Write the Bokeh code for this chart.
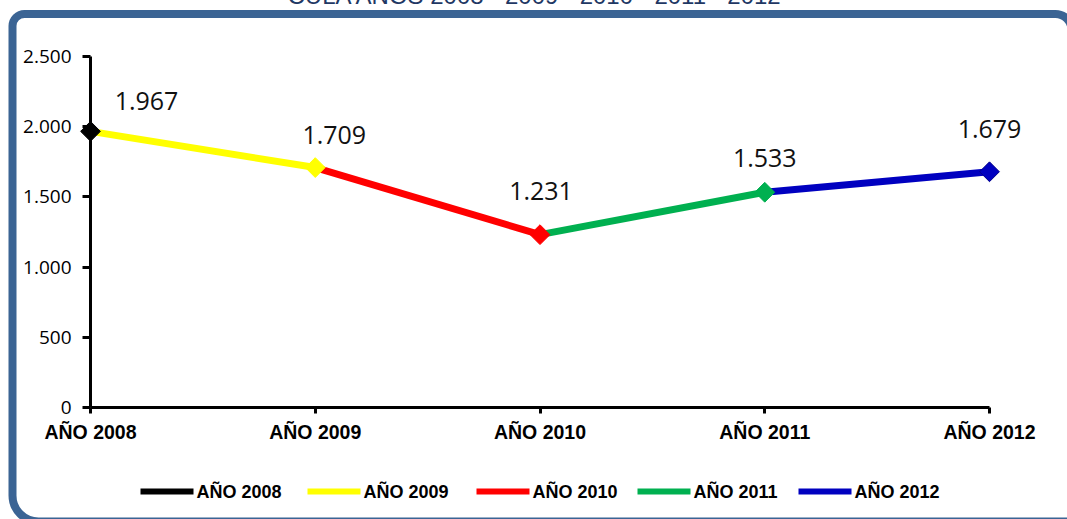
import math
from bokeh.plotting import figure
from bokeh.models import Range1d, FixedTicker, ColumnDataSource
from bokeh.core.properties import value
from bokeh.embed import file_html
from bokeh.resources import INLINE

# ---- data ----
years = ["AÑO 2008", "AÑO 2009", "AÑO 2010", "AÑO 2011", "AÑO 2012"]
values = [1967, 1709, 1231, 1533, 1679]
value_labels = ["1.967", "1.709", "1.231", "1.533", "1.679"]
y_ticks = [0, 500, 1000, 1500, 2000, 2500]
y_tick_labels = ["0", "500", "1.000", "1.500", "2.000", "2.500"]
title_text = "CULA AÑOS 2008 - 2009 - 2010 - 2011 - 2012"

# ---- styles ----
colors = ["#000000", "#FFFF00", "#FF0000", "#00B050", "#0000C0"]
marker_outline = ["#000000", "#FFFF00", "#FF0000", "#00B050", "#00008B"]
label_dx = [56, 19, 1, 0, 0]
label_dy = [30, 33, 44, 34, 43]
legend_px = [140, 307, 476, 637, 798]   # left edge of each legend swatch
legend_py = 491

W, H = 1067, 519
FL, FR, FT, FB = 90, 989, 56, 407   # plot frame edges in pixels

xs = list(range(len(years)))

p = figure(width=W, height=H,
           x_range=Range1d(xs[0], xs[-1]),
           y_range=Range1d(y_ticks[0], y_ticks[-1]),
           output_backend="svg", toolbar_location=None,
           min_border_left=FL, min_border_right=W - FR,
           min_border_top=FT, min_border_bottom=H - FB)
p.grid.visible = False
p.outline_line_color = None
p.background_fill_color = "white"
p.border_fill_color = "white"


def xd(px):
    return xs[0] + (px - FL) / (FR - FL) * (xs[-1] - xs[0])


def yd(py):
    return y_ticks[0] + (FB - py) / (FB - FT) * (y_ticks[-1] - y_ticks[0])


# outer rounded frame (decoration)
p.quad(left=[xd(12)], right=[xd(1071)], top=[yd(13.5)], bottom=[yd(521)],
       fill_alpha=0, line_color="#3B6494", line_width=8,
       border_radius=(12, 16, 0, 26), level="overlay")

# clipped title fragment at the very top
p.text(x=[xd(287)], y=[yd(-5)], text=[title_text],
       text_font=value("Liberation Sans"), text_font_size="24px",
       text_baseline="alphabetic", text_align="left", text_color="#1F3864",
       level="overlay")

# line segments (each segment coloured by the year it reaches)
for i in range(1, len(years)):
    p.line(xs[i - 1:i + 1], values[i - 1:i + 1], line_color=colors[i],
           line_width=7, level="overlay")

for i in range(len(years)):
    p.scatter([xs[i]], [values[i]], marker="square", angle=math.pi / 4, size=14,
              fill_color=colors[i], line_color=marker_outline[i], line_width=1,
              level="overlay")

lab_src = ColumnDataSource(dict(x=xs, y=values, text=value_labels,
                                dx=label_dx, dy=[-d for d in label_dy]))
p.text(x="x", y="y", text="text", x_offset="dx", y_offset="dy", source=lab_src,
       text_align="center", text_baseline="alphabetic",
       text_font=value("Open Sans"), text_font_size="25px", text_color="#111111",
       level="overlay")

# legend drawn below the axis
for i in range(len(years)):
    x0 = legend_px[i]
    p.line([xd(x0), xd(x0 + 53)], [yd(legend_py), yd(legend_py)],
           line_color=colors[i], line_width=6, level="overlay")
    p.scatter([xd(x0 + 26.5)], [yd(legend_py)], marker="square", angle=math.pi / 4,
              size=10, fill_color=colors[i], line_color=marker_outline[i],
              line_width=1, level="overlay")
    p.text([xd(x0 + 56)], [yd(legend_py)], text=[years[i]],
           text_font=value("Liberation Sans"), text_font_style="bold",
           text_font_size="18px", text_baseline="middle", text_align="left",
           text_color="black", level="overlay")

# axes
p.xaxis.ticker = FixedTicker(ticks=xs)
p.xaxis.major_label_overrides = {i: years[i] for i in xs}
p.xaxis.axis_line_width = 3
p.xaxis.axis_line_color = "black"
p.xaxis.major_tick_line_width = 3
p.xaxis.major_tick_out = 6
p.xaxis.major_tick_in = 0
p.xaxis.minor_tick_line_color = None
p.xaxis.major_label_standoff = 7
p.xaxis.major_label_text_font = "Liberation Sans"
p.xaxis.major_label_text_font_style = "bold"
p.xaxis.major_label_text_font_size = "19.5px"
p.xaxis.major_label_text_color = "black"

p.yaxis.ticker = FixedTicker(ticks=y_ticks)
p.yaxis.major_label_overrides = {t: l for t, l in zip(y_ticks, y_tick_labels)}
p.yaxis.axis_line_width = 3
p.yaxis.axis_line_color = "black"
p.yaxis.major_tick_line_width = 3
p.yaxis.major_tick_out = 8
p.yaxis.major_tick_in = 0
p.yaxis.minor_tick_line_color = None
p.yaxis.major_label_standoff = 11
p.yaxis.major_label_text_font = "Open Sans"
p.yaxis.major_label_text_font_size = "19px"
p.yaxis.major_label_text_color = "black"

open("out.html", "w").write(file_html(p, INLINE))
